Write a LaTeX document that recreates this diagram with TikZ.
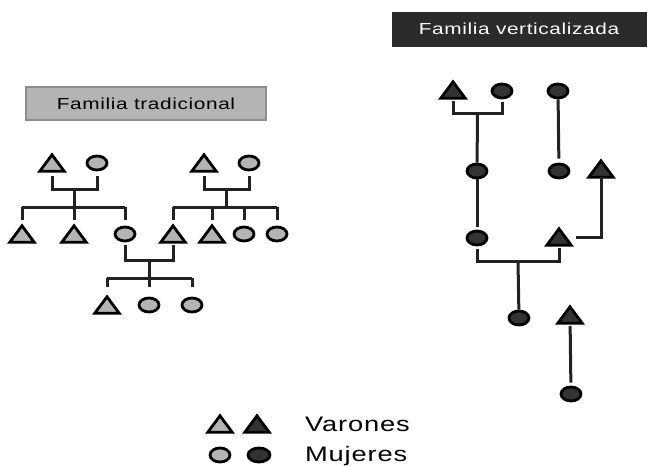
\documentclass[tikz,border=0pt]{standalone}
\usepackage{fontspec}
\setmainfont{Liberation Sans}
\usetikzlibrary{shapes.geometric,calc}
\definecolor{lightg}{HTML}{B4B4B4}
\definecolor{darkg}{HTML}{333333}
\definecolor{lineg}{HTML}{222222}
\definecolor{boxborder}{HTML}{8C8C8C}
\definecolor{darkbox}{HTML}{2B2B2B}
\newcommand\widetext[2]{\scalebox{1.3}[1]{\fontsize{#1}{#1}\selectfont\addfontfeatures{LetterSpace=3}#2}}
\begin{document}
\begin{tikzpicture}[x=1pt,y=-1pt,
  tribox/.style={rectangle, minimum width=24pt, minimum height=16pt, inner sep=0pt},
  tridraw/.style={draw=black, line width=2.8pt, line join=miter},
  cir/.style={ellipse, minimum width=20pt, minimum height=14pt, inner sep=0pt, draw=black, line width=2.8pt},
  lt/.style={fill=lightg},
  dk/.style={fill=darkg},
  con/.style={draw=lineg, line width=3pt},
  lbl/.style={inner sep=0pt},
]
\useasboundingbox (0,0) rectangle (649,466);
\fill[white] (0,0) rectangle (649,466);
\newcommand\mytri[3]{\node[tribox] (#1) at (#2) {};
  \draw[tridraw,fill=#3] (#1.south west) -- (#1.north) -- (#1.south east) -- cycle;}

% titles
\node[draw=boxborder, fill=lightg, line width=1.5pt, minimum width=240pt, minimum height=33pt, inner sep=0pt]
  (titL) at (146,103.5) {\widetext{16}{Familia tradicional}};
\node[draw=darkbox, fill=darkbox, minimum width=254pt, minimum height=34pt, inner sep=0pt, text=white]
  (titR) at (519,29) {\widetext{16}{Familia verticalizada}};

% ---- left tree ----
\mytri{GLt}{52,163}{lightg}
\node[cir,lt] (GLc) at (97,163) {};
\mytri{GRt}{204,163}{lightg}
\node[cir,lt] (GRc) at (249,163) {};
\mytri{A1}{22,234}{lightg}
\mytri{A2}{74,234}{lightg}
\node[cir,lt] (A3) at (125,234) {};
\mytri{B1}{173,234}{lightg}
\mytri{B2}{212,234}{lightg}
\node[cir,lt] (B3) at (244,234) {};
\node[cir,lt] (B4) at (277,234) {};
\mytri{C1}{107,305}{lightg}
\node[cir,lt] (C2) at (149,305) {};
\node[cir,lt] (C3) at (192,305) {};

% couple 1
\draw[con, shorten <=5pt, shorten >=5pt] (GLt.south) -- (GLt.south |- 0,189) -- (GLc.south |- 0,189) -- (GLc.south);
\coordinate (m1) at ($(GLt.south |- 0,189)!.5!(GLc.south |- 0,189)$);
\draw[con] (m1) -- (m1 |- 0,207);
\draw[con] (A1.north |- 0,207) -- (A3.north |- 0,207);
\foreach \n in {A1,A2,A3} \draw[con, shorten >=6pt] (\n.north |- 0,207) -- (\n.north);
% couple 2
\draw[con, shorten <=5pt, shorten >=5pt] (GRt.south) -- (GRt.south |- 0,189) -- (GRc.south |- 0,189) -- (GRc.south);
\coordinate (m2) at ($(GRt.south |- 0,189)!.5!(GRc.south |- 0,189)$);
\draw[con] (m2) -- (m2 |- 0,207);
\draw[con] (B1.north |- 0,207) -- (B4.north |- 0,207);
\foreach \n in {B1,B2,B3,B4} \draw[con, shorten >=6pt] (\n.north |- 0,207) -- (\n.north);
% couple 3
\draw[con, shorten <=3pt, shorten >=3pt] (A3.south) -- (A3.south |- 0,260) -- (B1.south |- 0,260) -- (B1.south);
\coordinate (m3) at ($(A3.south |- 0,260)!.5!(B1.south |- 0,260)$);
\draw[con] (m3) -- (m3 |- 0,278);
\draw[con] (C1.north |- 0,278) -- (C3.north |- 0,278);
\foreach \n in {C1,C2,C3} \draw[con, shorten >=10pt] (\n.north |- 0,278) -- (\n.north);

% ---- right tree ----
\mytri{P1}{453,90}{darkg}
\node[cir,dk] (P2) at (502,91) {};
\node[cir,dk] (P3) at (558,91) {};
\node[cir,dk] (Q1) at (477,171) {};
\node[cir,dk] (Q2) at (559,171) {};
\mytri{Q3}{601,169}{darkg}
\node[cir,dk] (R1) at (477,238) {};
\mytri{R2}{559,237}{darkg}
\node[cir,dk] (S1) at (519,318) {};
\mytri{S2}{570,315}{darkg}
\node[cir,dk] (T1) at (571,394) {};

\draw[con, shorten <=3pt, shorten >=3pt] (P1.south) -- (P1.south |- 0,113) -- (P2.south |- 0,113) -- (P2.south);
\coordinate (m4) at ($(P1.south |- 0,113)!.5!(P2.south |- 0,113)$);
\draw[con] (m4) -- (Q1);
\draw[con, shorten >=4pt] (P3) -- (Q2);
\draw[con, shorten >=3pt] (Q1) -- (R1);
\draw[con, shorten >=5pt] (Q3) |- (R2);
\draw[con, shorten <=3pt, shorten >=3pt] (R1.south) -- (R1.south |- 0,261) -- (R2.south |- 0,261) -- (R2.south);
\coordinate (m5) at ($(R1.south |- 0,261)!.5!(R2.south |- 0,261)$);
\draw[con] (m5) -- (S1);
\draw[con, shorten <=3pt, shorten >=3pt] (S2) -- (T1);

% ---- legend ----
\mytri{LT1}{220,424}{lightg}
\mytri{LT2}{257,424}{darkg}
\node[cir,lt] (LC1) at (220,455) {};
\node[cir,dk, minimum width=22pt] (LC2) at (259,455) {};
\node[lbl, anchor=west] (varones) at (305,424) {\widetext{21}{Varones}};
\node[lbl, anchor=west] (mujeres) at (305,456) {\widetext{21}{Mujeres}};
\end{tikzpicture}
\end{document}
